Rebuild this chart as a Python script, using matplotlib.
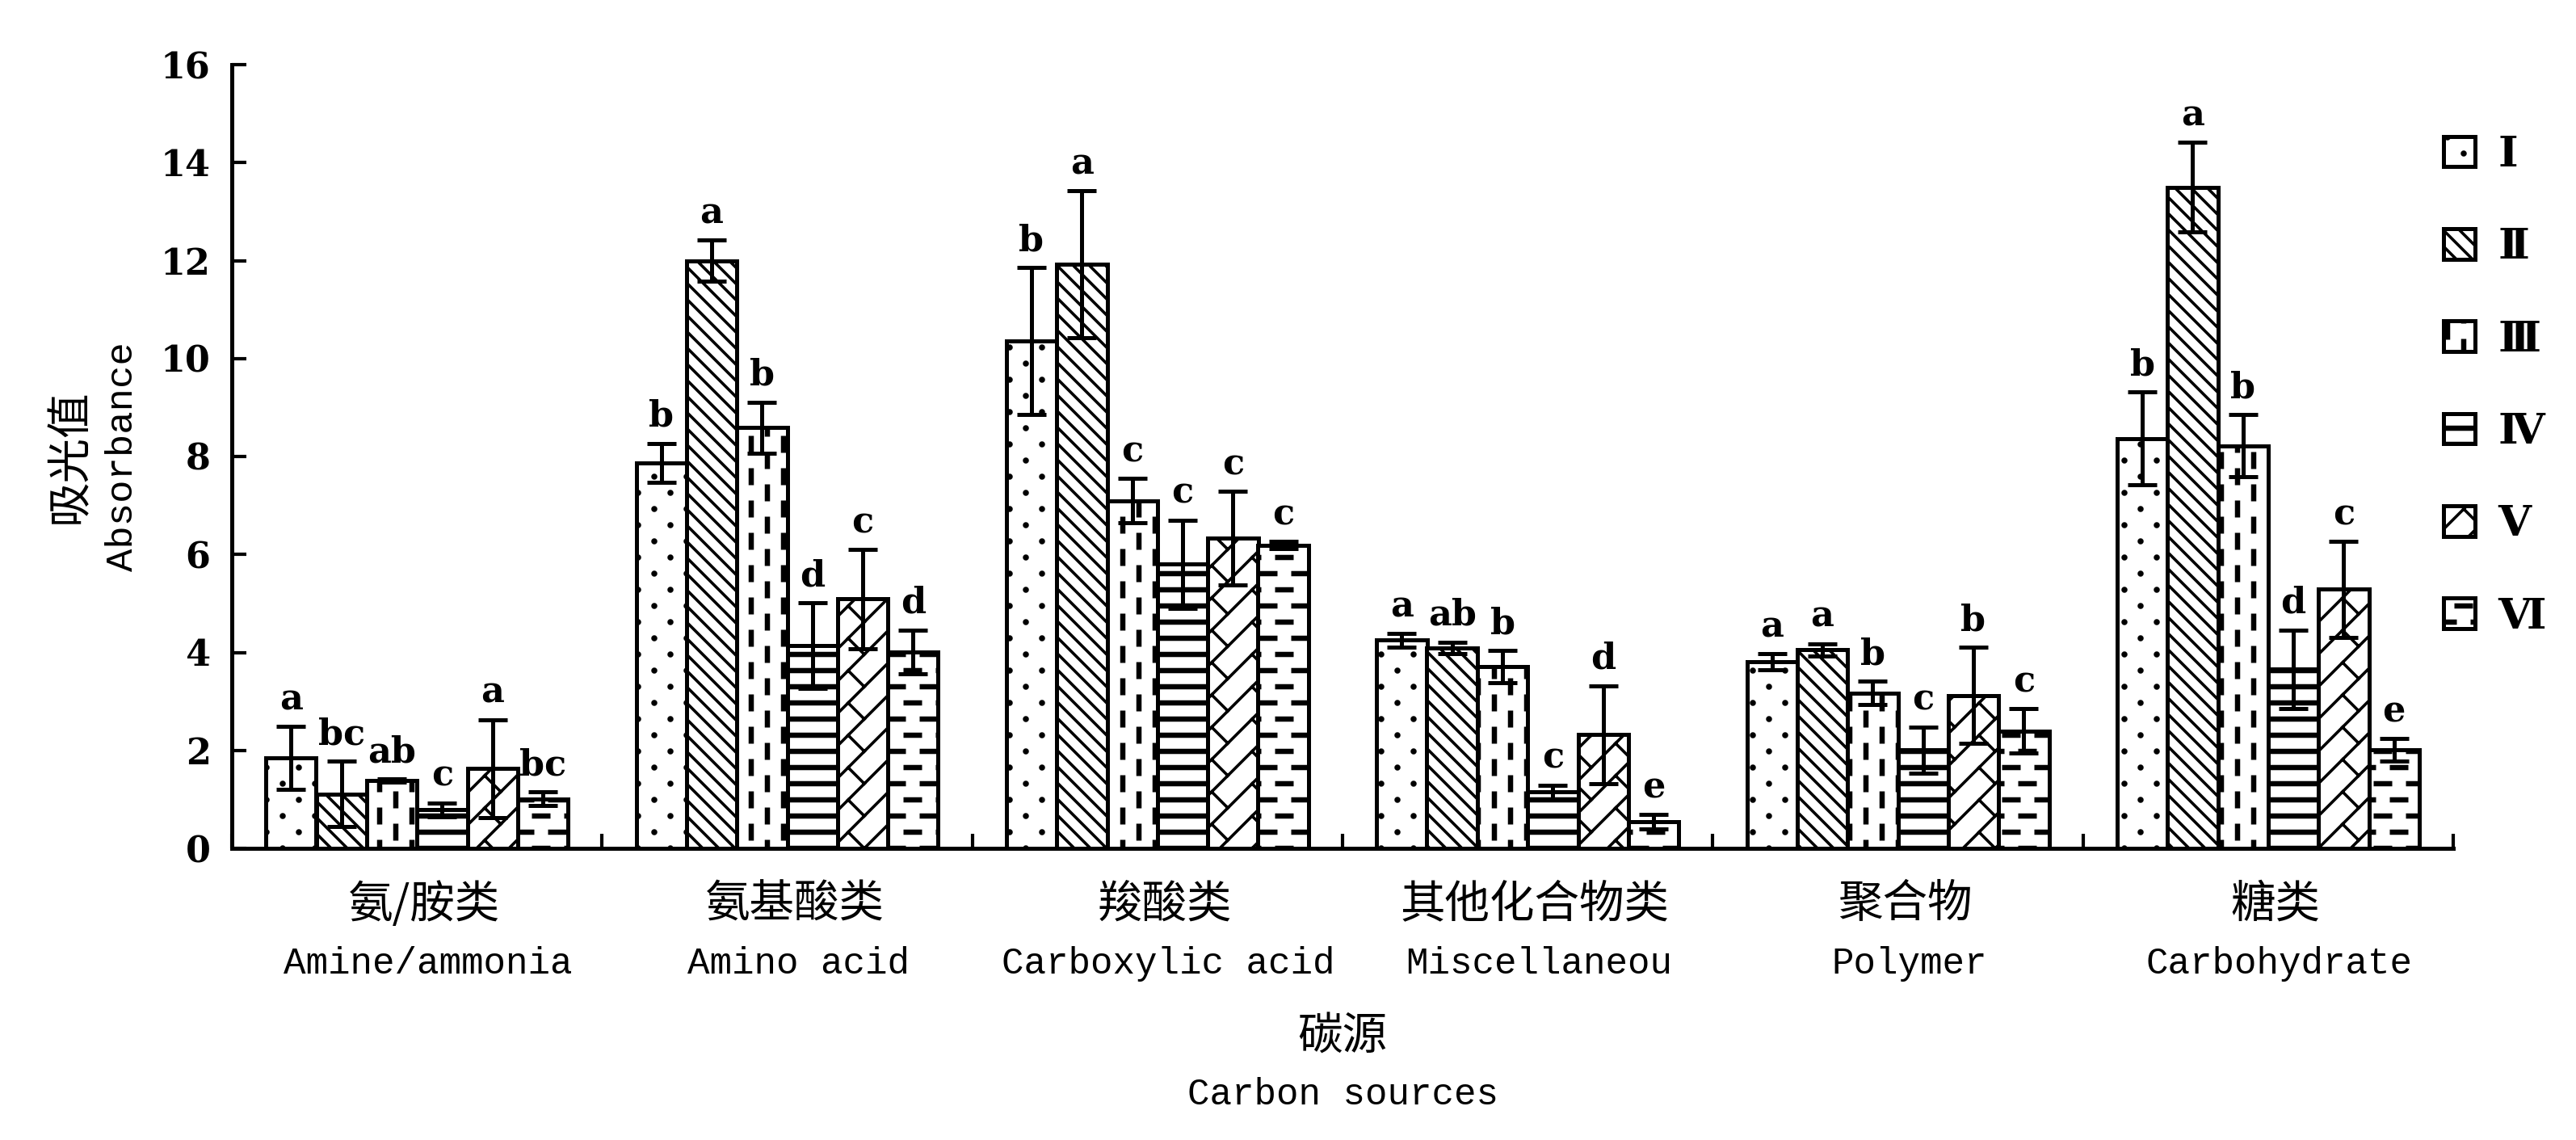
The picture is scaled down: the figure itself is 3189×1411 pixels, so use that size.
import numpy as np
import matplotlib
matplotlib.use('Agg')
import matplotlib.pyplot as plt
import matplotlib.hatch as mhatch
from matplotlib.path import Path

# ---------------- data ----------------
categories_cn = ['氨/胺类', '氨基酸类', '羧酸类', '其他化合物类', '聚合物', '糖类']
categories_en = ['Amine/ammonia', 'Amino acid', 'Carboxylic acid', 'Miscellaneou', 'Polymer', 'Carbohydrate']
series_names = ['Ⅰ', 'Ⅱ', 'Ⅲ', 'Ⅳ', 'Ⅴ', 'Ⅵ']

val_I   = [1.85, 7.87, 10.36, 4.25, 3.81, 8.37]
val_II  = [1.11, 12.00, 11.92, 4.09, 4.05, 13.50]
val_III = [1.39, 8.59, 7.10, 3.71, 3.17, 8.22]
val_IV  = [0.79, 4.14, 5.80, 1.15, 2.01, 3.66]
val_V   = [1.63, 5.09, 6.33, 2.32, 3.12, 5.29]
val_VI  = [1.01, 4.01, 6.19, 0.54, 2.40, 2.01]

err_I   = [0.64, 0.40, 1.50, 0.14, 0.16, 0.95]
err_II  = [0.67, 0.42, 1.50, 0.12, 0.13, 0.91]
err_III = [0.03, 0.52, 0.45, 0.33, 0.24, 0.63]
err_IV  = [0.14, 0.87, 0.90, 0.14, 0.47, 0.80]
err_V   = [1.00, 1.01, 0.96, 1.00, 0.98, 0.98]
err_VI  = [0.14, 0.45, 0.07, 0.15, 0.45, 0.23]

sig_I   = ['a', 'b', 'b', 'a', 'a', 'b']
sig_II  = ['bc', 'a', 'a', 'ab', 'a', 'a']
sig_III = ['ab', 'b', 'c', 'b', 'b', 'b']
sig_IV  = ['c', 'd', 'c', 'c', 'c', 'd']
sig_V   = ['a', 'c', 'c', 'd', 'b', 'c']
sig_VI  = ['bc', 'd', 'c', 'e', 'c', 'e']

values = [val_I, val_II, val_III, val_IV, val_V, val_VI]
errors = [err_I, err_II, err_III, err_IV, err_V, err_VI]
sigs = [sig_I, sig_II, sig_III, sig_IV, sig_V, sig_VI]

# ---------------- custom hatch patterns ----------------
DPI = 200
HATCH_LW = 1.3
plt.rcParams['hatch.linewidth'] = HATCH_LW
plt.rcParams['hatch.color'] = 'black'
U = float(DPI)
S = HATCH_LW * DPI / 72.0


def _rect(cx, cy, w, h):
    w2 = max(w - S, 0.6) / 2
    h2 = max(h - S, 0.6) / 2
    return ([(cx - w2, cy - h2), (cx + w2, cy - h2), (cx + w2, cy + h2),
             (cx - w2, cy + h2), (cx - w2, cy - h2)], True)


def _circle(cx, cy, d):
    r = max(d - S, 0.6) / 2
    t = np.linspace(0, 2 * np.pi, 13)
    pts = [(cx + r * np.cos(a), cy + r * np.sin(a)) for a in t]
    return (pts, True)


def _line(p0, p1):
    return ([p0, p1], False)


def _pattern_shapes(kind):
    shapes = []
    tile = False
    if kind == '.':
        tile = True
        for r in range(10):
            for c in range(5):
                shapes.append(_circle(c * 40 + (r % 2) * 20 + 10, r * 20 + 10, 7.5))
    elif kind == '\\':
        for k in range(-3, 24):
            shapes.append(_line((-60, 20 * k + 60), (260, 20 * k - 260)))
    elif kind == '|':
        tile = True
        for c in range(10):
            for j in range(5):
                shapes.append(_rect(c * 20 + 10, j * 40 + (c % 2) * 20 + 10, 6.5, 21))
    elif kind == '-':
        for r in range(10):
            shapes.append(_rect(100, r * 20 + 10, 240, 6.5))
    elif kind == 'x':
        for k in range(-7, 8):
            shapes.append(_line((-60, -60 + 40 * k), (260, 260 + 40 * k)))
        for j in range(-2, 6):
            x0 = 50 * j
            for k in range(-12, 12):
                y0 = x0 + 40 * k + 40
                if -60 < y0 < 260:
                    shapes.append(_line((x0, y0), (x0 + 20, y0 - 20)))
    elif kind == '+':
        tile = True
        for r in range(10):
            for j in range(5):
                shapes.append(_rect(j * 40 + (r % 2) * 20 + 10, r * 20 + 10, 23, 6.5))
    if tile:
        tiled = []
        for dx in (-U, 0, U):
            for dy in (-U, 0, U):
                for pts, closed in shapes:
                    tiled.append(([(x + dx, y + dy) for x, y in pts], closed))
        shapes = tiled
    return shapes


_orig_get_path = mhatch.get_path


def _custom_get_path(hatchpattern, density=6):
    if hatchpattern not in ('.', '\\', '|', '-', 'x', '+'):
        return _orig_get_path(hatchpattern, density)
    verts, codes = [], []
    for pts, closed in _pattern_shapes(hatchpattern):
        for i, (x, y) in enumerate(pts):
            verts.append((x / U, y / U))
            if i == 0:
                codes.append(Path.MOVETO)
            elif closed and i == len(pts) - 1:
                codes.append(Path.CLOSEPOLY)
            else:
                codes.append(Path.LINETO)
    return Path(np.array(verts), np.array(codes, dtype=Path.code_type))


mhatch.get_path = _custom_get_path
hatches = ['.', '\\', '|', '-', 'x', '+']

# ---------------- figure ----------------
W, H = 3189, 1411
fig = plt.figure(figsize=(W / DPI, H / DPI), dpi=DPI)
ax_l, ax_r, ax_t, ax_b = 287, 3037, 80, 1050
ax = fig.add_axes([ax_l / W, 1 - ax_b / H, (ax_r - ax_l) / W, (ax_b - ax_t) / H])

centers = np.arange(len(categories_cn)) + 0.5
bw = 0.136
LW = 1.8

handles = []
for si in range(6):
    xs = centers + (si - 2.5) * bw
    b = ax.bar(xs, values[si], bw, facecolor='white', edgecolor='black',
               linewidth=LW, hatch=hatches[si], label=series_names[si], zorder=1)
    handles.append(b)
    ax.errorbar(xs, values[si], yerr=errors[si], fmt='none', ecolor='black',
                elinewidth=LW, capsize=6.5, capthick=LW, zorder=3)
    for x, v, e, s in zip(xs, values[si], errors[si], sigs[si]):
        ax.annotate(s, xy=(x, v + e), xytext=(0, 7.5), textcoords='offset points',
                    ha='center', va='baseline', fontsize=16, fontweight='bold',
                    family='DejaVu Serif')

ax.set_xlim(0, 6)
ax.set_ylim(0, 16)
ax.set_yticks(np.arange(0, 17, 2))
ax.set_yticklabels([str(v) for v in range(0, 17, 2)], fontsize=16,
                   fontweight='bold', family='DejaVu Serif')
ax.set_xticks(np.arange(0, 7))
ax.set_xticklabels([])
ax.tick_params(axis='y', direction='in', length=6.5, width=1.5, pad=9.5)
ax.tick_params(axis='x', direction='in', length=6.5, width=1.5)
for sp in ('top', 'right'):
    ax.spines[sp].set_visible(False)
for sp in ('left', 'bottom'):
    ax.spines[sp].set_linewidth(1.8)

trans = ax.get_xaxis_transform()
for c, cn, en in zip(centers, categories_cn, categories_en):
    ax.text(c + 0.02, -0.072, cn, transform=trans, ha='center', va='center',
            fontsize=20, family=['Noto Sans CJK SC', 'DejaVu Sans'])
    ax.text(c + 0.03, -0.160, en, transform=trans, ha='center', va='baseline',
            fontsize=16.5, family='Liberation Mono')

ax.text(0.5, -0.241, '碳源', transform=ax.transAxes, ha='center', va='center',
        fontsize=20, family=['Noto Sans CJK SC', 'DejaVu Sans'])
ax.text(0.5, -0.327, 'Carbon sources', transform=ax.transAxes, ha='center',
        va='baseline', fontsize=16.5, family='Liberation Mono')

ax.text(-0.073, 0.5, '吸光值', transform=ax.transAxes, ha='center', va='center',
        rotation=90, fontsize=20, family=['Noto Sans CJK SC', 'DejaVu Sans'])
ax.text(-0.049, 0.5, 'Absorbance', transform=ax.transAxes, ha='center',
        va='center', rotation=90, fontsize=17, family='Liberation Mono')

leg = fig.legend(handles=handles, labels=series_names, loc='upper left',
                 bbox_to_anchor=(3025 / W, 1 - 166 / H), frameon=False,
                 borderpad=0, borderaxespad=0, handlelength=0.74,
                 handleheight=0.72, handletextpad=0.53, labelspacing=1.2,
                 prop={'family': ['DejaVu Serif', 'Noto Sans CJK SC'],
                       'weight': 'bold', 'size': 19})

fig.savefig('out.png', dpi=DPI, facecolor='white')
